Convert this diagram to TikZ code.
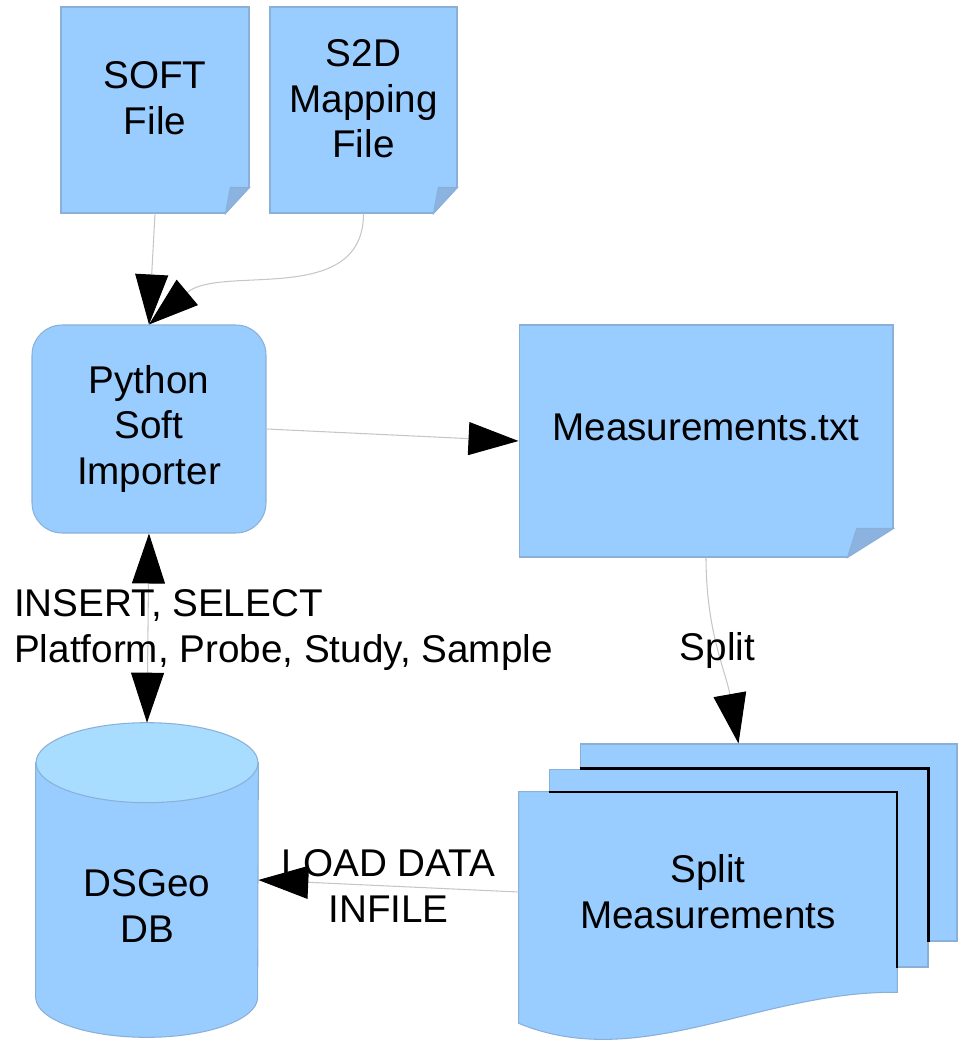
\documentclass[tikz,border=0pt]{standalone}
\usepackage{fontspec}
\setmainfont{Liberation Sans}
\usetikzlibrary{arrows.meta,backgrounds,positioning}
\definecolor{notefill}{HTML}{99CCFF}
\definecolor{noteline}{HTML}{8AB0D8}
\definecolor{foldfill}{HTML}{8CB3E0}
\definecolor{dbtop}{HTML}{A8DDFF}
\definecolor{linegrey}{HTML}{C6C6C6}
% folded corner on a note: node, fold width, fold height
\newcommand{\fold}[3]{%
  \fill[white] ([shift={(-#2,-1pt)}]#1.south east) -- ([shift={(1pt,-1pt)}]#1.south east)
    -- ([shift={(1pt,#3)}]#1.south east) -- ([yshift=#3]#1.south east) -- ([xshift=-#2]#1.south east) -- cycle;
  \filldraw[fill=foldfill, draw=noteline, line width=0.6pt] ([xshift=-#2]#1.south east) -- ([yshift=#3]#1.south east)
    -- ([shift={({-0.8*#2},#3)}]#1.south east) -- cycle;
}
\tikzset{
  notebox/.style={rectangle, draw=noteline, fill=notefill, line width=0.6pt, inner sep=0pt},
  docedge/.style={draw=black, line width=1.2pt},
}

\begin{document}
\begin{tikzpicture}[x=0.02cm, y=0.02cm,
    every node/.style={font=\fontsize{22}{26}\selectfont},
    >={Triangle[length=1cm,width=0.66cm,color=black]},
    flow/.style={->, draw=linegrey, line width=0.6pt}]
  \useasboundingbox (0,0) rectangle (968,-1050);

  % input files
  \node[notebox, minimum width=3.76cm, minimum height=4.12cm,
        label={[align=center, yshift=0.24cm]center:SOFT\\File}] (soft) at (155,-110) {};
  \node[notebox, minimum width=3.74cm, minimum height=4.12cm,
        label={[align=center, yshift=0.22cm]center:S2D\\Mapping\\File}] (s2d) at (363.5,-110) {};
  \fold{soft}{0.48cm}{0.52cm}
  \fold{s2d}{0.48cm}{0.52cm}

  % importer
  \node[notebox, rounded corners=0.6cm, minimum width=4.68cm, minimum height=4.16cm,
        align=center] (python) at (149,-429) {Python\\Soft\\Importer};

  % measurements
  \node[notebox, minimum width=7.48cm, minimum height=4.64cm,
        label={[yshift=0.28cm]center:Measurements.txt}] (meas) at (706,-441) {};
  \fold{meas}{0.92cm}{0.58cm}

  % split files
  \node[notebox, minimum width=7.54cm, minimum height=3.94cm] (split3) at (768.5,-842.5) {};
  \node[notebox, minimum width=7.58cm, minimum height=3.96cm] (split2) at (738.5,-868) {};
  \node[fill=notefill, minimum width=7.56cm, minimum height=4cm, inner sep=0pt,
        align=center] (split1) at (708,-892) {Split\\Measurements};
  \fill[notefill] (split1.south east) .. controls +(-137,2) and +(121,-50)
    .. ([yshift=-0.62cm]split1.south west) -- ([yshift=2pt]split1.south west)
    -- ([yshift=2pt]split1.south east) -- cycle;
  \draw[noteline, line width=0.6pt] (split1.south east) .. controls +(-137,2) and +(121,-50)
    .. ([yshift=-0.62cm]split1.south west) -- (split1.north west) -- (split1.north east) -- cycle;
  \draw[docedge] (split3.west |- split2.north) -- (split2.north east) -- (split2.east |- split3.south);
  \draw[docedge] (split2.west |- split1.north) -- (split1.north east) -- (split1.east |- split2.south);

  % database
  \node[minimum width=4.44cm, minimum height=6.28cm, inner sep=0pt,
        label={[align=center, yshift=-0.52cm]center:DSGeo\\DB}] (db) at (147,-880) {};
  \begin{scope}[on background layer]
    \filldraw[fill=notefill, draw=noteline, line width=0.6pt]
      ([yshift=-0.8cm]db.north west) -- ([yshift=0.8cm]db.south west)
      arc[start angle=180, end angle=360, x radius=2.22cm, y radius=0.8cm]
      -- ([yshift=-0.8cm]db.north east) -- cycle;
    \filldraw[fill=dbtop, draw=noteline, line width=0.6pt]
      ([yshift=-0.8cm]db.north) ellipse[x radius=2.22cm, y radius=0.8cm];
  \end{scope}

  % connectors
  \draw[flow] (soft.south) -- (python.north);
  \draw[flow] (s2d.south) to[out=-90, in=40] (python.north);
  \draw[flow] (python.east) -- (meas.west);
  \draw[flow, <->] (python.south) -- (db.north);
  \node[anchor=west, align=left] (sql) at (8,-630) {INSERT, SELECT\\Platform, Probe, Study, Sample};
  \draw[flow] (meas.south) to[out=-90, in=100] node (splitlbl) {Split} ([xshift=-0.6cm]split3.north);
  \draw[flow] (split1.west) -- node[align=center] (loadlbl) {LOAD DATA\\INFILE} (db.east);
\end{tikzpicture}
\end{document}
